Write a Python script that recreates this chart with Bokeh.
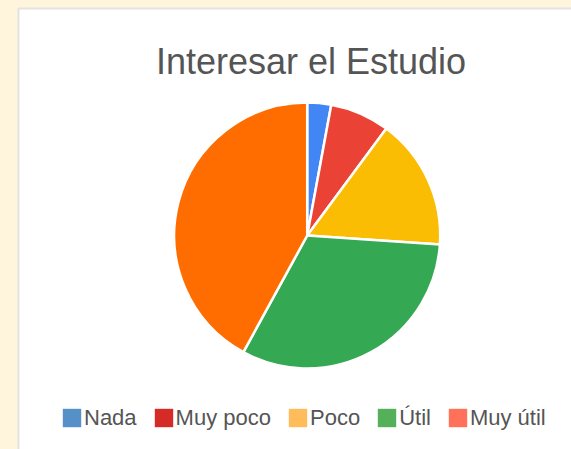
import math
from bokeh.plotting import figure
from bokeh.models import Range1d, ColumnDataSource, Legend, LegendItem, Label
from bokeh.embed import file_html
from bokeh.resources import INLINE

# ---- data ----
categories = ["Nada", "Muy poco", "Poco", "Útil", "Muy útil"]
counts = [2, 5, 11, 22, 29]
slice_colors = ["#4285F4", "#EA4335", "#FBBC04", "#34A853", "#FF6D01"]
legend_colors = ["#5591C8", "#D62A28", "#FFBC5A", "#55B05A", "#FF7158"]
title_text = "Interesar el Estudio"

# ---- layout (canvas covers the whole page) ----
W, H = 571, 449
cx, cy, r = 306.7, H - 235, 133

p = figure(width=W, height=H, output_backend="svg", toolbar_location=None,
           x_range=Range1d(0, W), y_range=Range1d(0, H),
           x_axis_location=None, y_axis_location=None, min_border=0)
p.grid.visible = False
p.outline_line_color = None
p.background_fill_color = "#FFF5DD"
p.border_fill_color = "#FFF5DD"

# white panel
p.quad(left=18, right=W + 20, top=H - 8, bottom=-20, fill_color="white",
       line_color="#E3E3E3", line_width=2)

total = float(sum(counts))
starts, ends = [], []
cum = 0.0
for c in counts:
    a0 = cum / total
    cum += c
    a1 = cum / total
    starts.append(math.pi / 2 - 2 * math.pi * a1)
    ends.append(math.pi / 2 - 2 * math.pi * a0)

src = ColumnDataSource(dict(cat=categories, start=starts, end=ends, color=slice_colors))
p.wedge(x=cx, y=cy, radius=r, start_angle="start", end_angle="end",
        fill_color="color", line_color="white", line_width=2.5, source=src)

title = Label(x=310.5, y=H - 61, text=title_text, text_align="center",
              text_baseline="alphabetic", text_font="Liberation Sans",
              text_font_size="36px", text_color="#555555")
p.add_layout(title)

items = []
nan = float("nan")
for cat, col in zip(categories, legend_colors):
    rr = p.quad(left=[nan], right=[nan], top=[nan], bottom=[nan],
                fill_color=col, line_color=None)
    items.append(LegendItem(label=cat, renderers=[rr]))

legend = Legend(items=items, orientation="horizontal", location=(60, 18.5),
                glyph_width=23, glyph_height=23, label_height=23,
                label_standoff=1, spacing=15, padding=0, margin=0,
                border_line_alpha=0, background_fill_alpha=0,
                label_text_font="Liberation Sans", label_text_font_size="22px",
                label_text_color="#555555")
p.add_layout(legend, "center")

html = file_html(p, INLINE)
html = html.replace("</head>",
                    "<style>html,body{background:#FFF5DD;overflow:hidden;}</style></head>", 1)
open("out.html", "w").write(html)
